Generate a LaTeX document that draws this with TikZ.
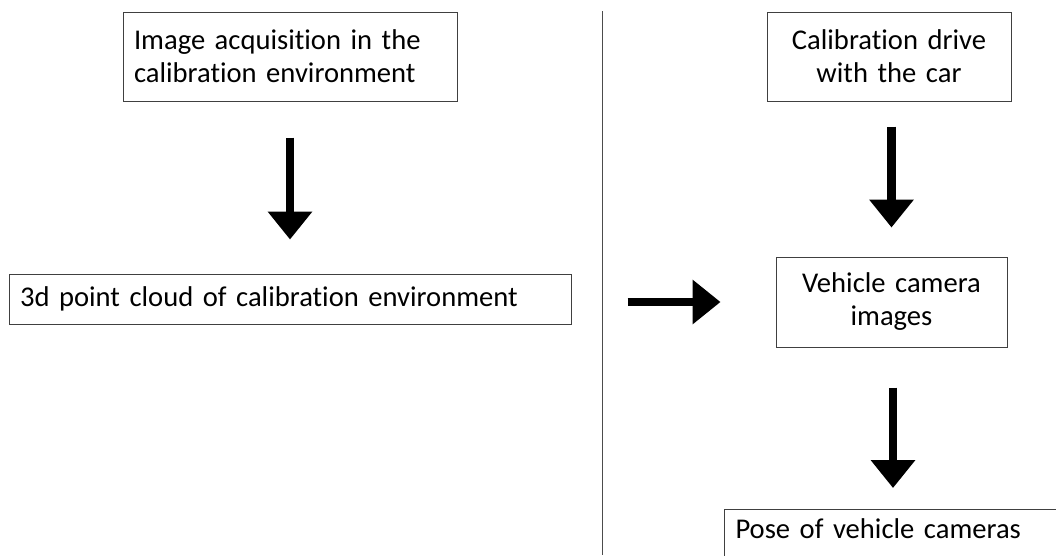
\documentclass[tikz,border=0pt]{standalone}
\usepackage{fontspec}
\setmainfont{Carlito}[Ligatures=NoCommon, WordSpace=0.72]
\usetikzlibrary{arrows.meta}

\begin{document}
\begin{tikzpicture}[x=1pt,y=-1pt,
	box/.style={draw=black!75, line width=1pt, inner xsep=11pt, inner ysep=0pt, font=\fontsize{28.6}{33}\selectfont},
	bigarrow/.style={line width=8.5pt, -{Triangle[width=43pt,length=28pt]}},
	divider/.style={draw=black!70, line width=1pt}]
					\useasboundingbox (0,0) rectangle (1056,555);
					\node [box, minimum width=334pt, minimum height=89pt, text width=312pt, align=left] (acq) at (290,56.5) {Image acquisition in the\\calibration environment};
					\node [box, minimum width=562pt, minimum height=50pt, text width=540pt, align=left] (cloud) at (290,299) {3d point cloud of calibration environment};
					\node [box, minimum width=244pt, minimum height=89pt, text width=222pt, align=center] (drive) at (889,56.5) {Calibration drive\\with the car};
					\node [box, minimum width=231pt, minimum height=90pt, text width=209pt, align=center] (images) at (891.5,302) {Vehicle camera\\images};
					\node [box, minimum width=360pt, text width=338pt, text height=20pt, text depth=40pt, inner ysep=9pt, align=left, anchor=north west] (pose) at (724,509) {Pose of vehicle cameras};
					\coordinate (top) at (602,11);
					\coordinate (bottom) at (602,555);
					\draw[divider] (top) -- (bottom);
					\draw[bigarrow] ([yshift=-36pt]acq.south) -- ([yshift=34pt]cloud.north);
					\coordinate (cloudright) at ([xshift=56pt]cloud.east);
					\draw[bigarrow] (cloudright |- images.west) -- ([xshift=-55pt]images.west);
					\coordinate (drivebottom) at ([yshift=-25pt]drive.south);
					\draw[bigarrow] (drivebottom -| images.north) -- ([yshift=29pt]images.north);
					\coordinate (posetop) at ([yshift=21pt]pose.north);
					\draw[bigarrow] ([xshift=1.5pt,yshift=-40pt]images.south) -- ([xshift=1.5pt]posetop -| images.south);
				\end{tikzpicture}
\end{document}
